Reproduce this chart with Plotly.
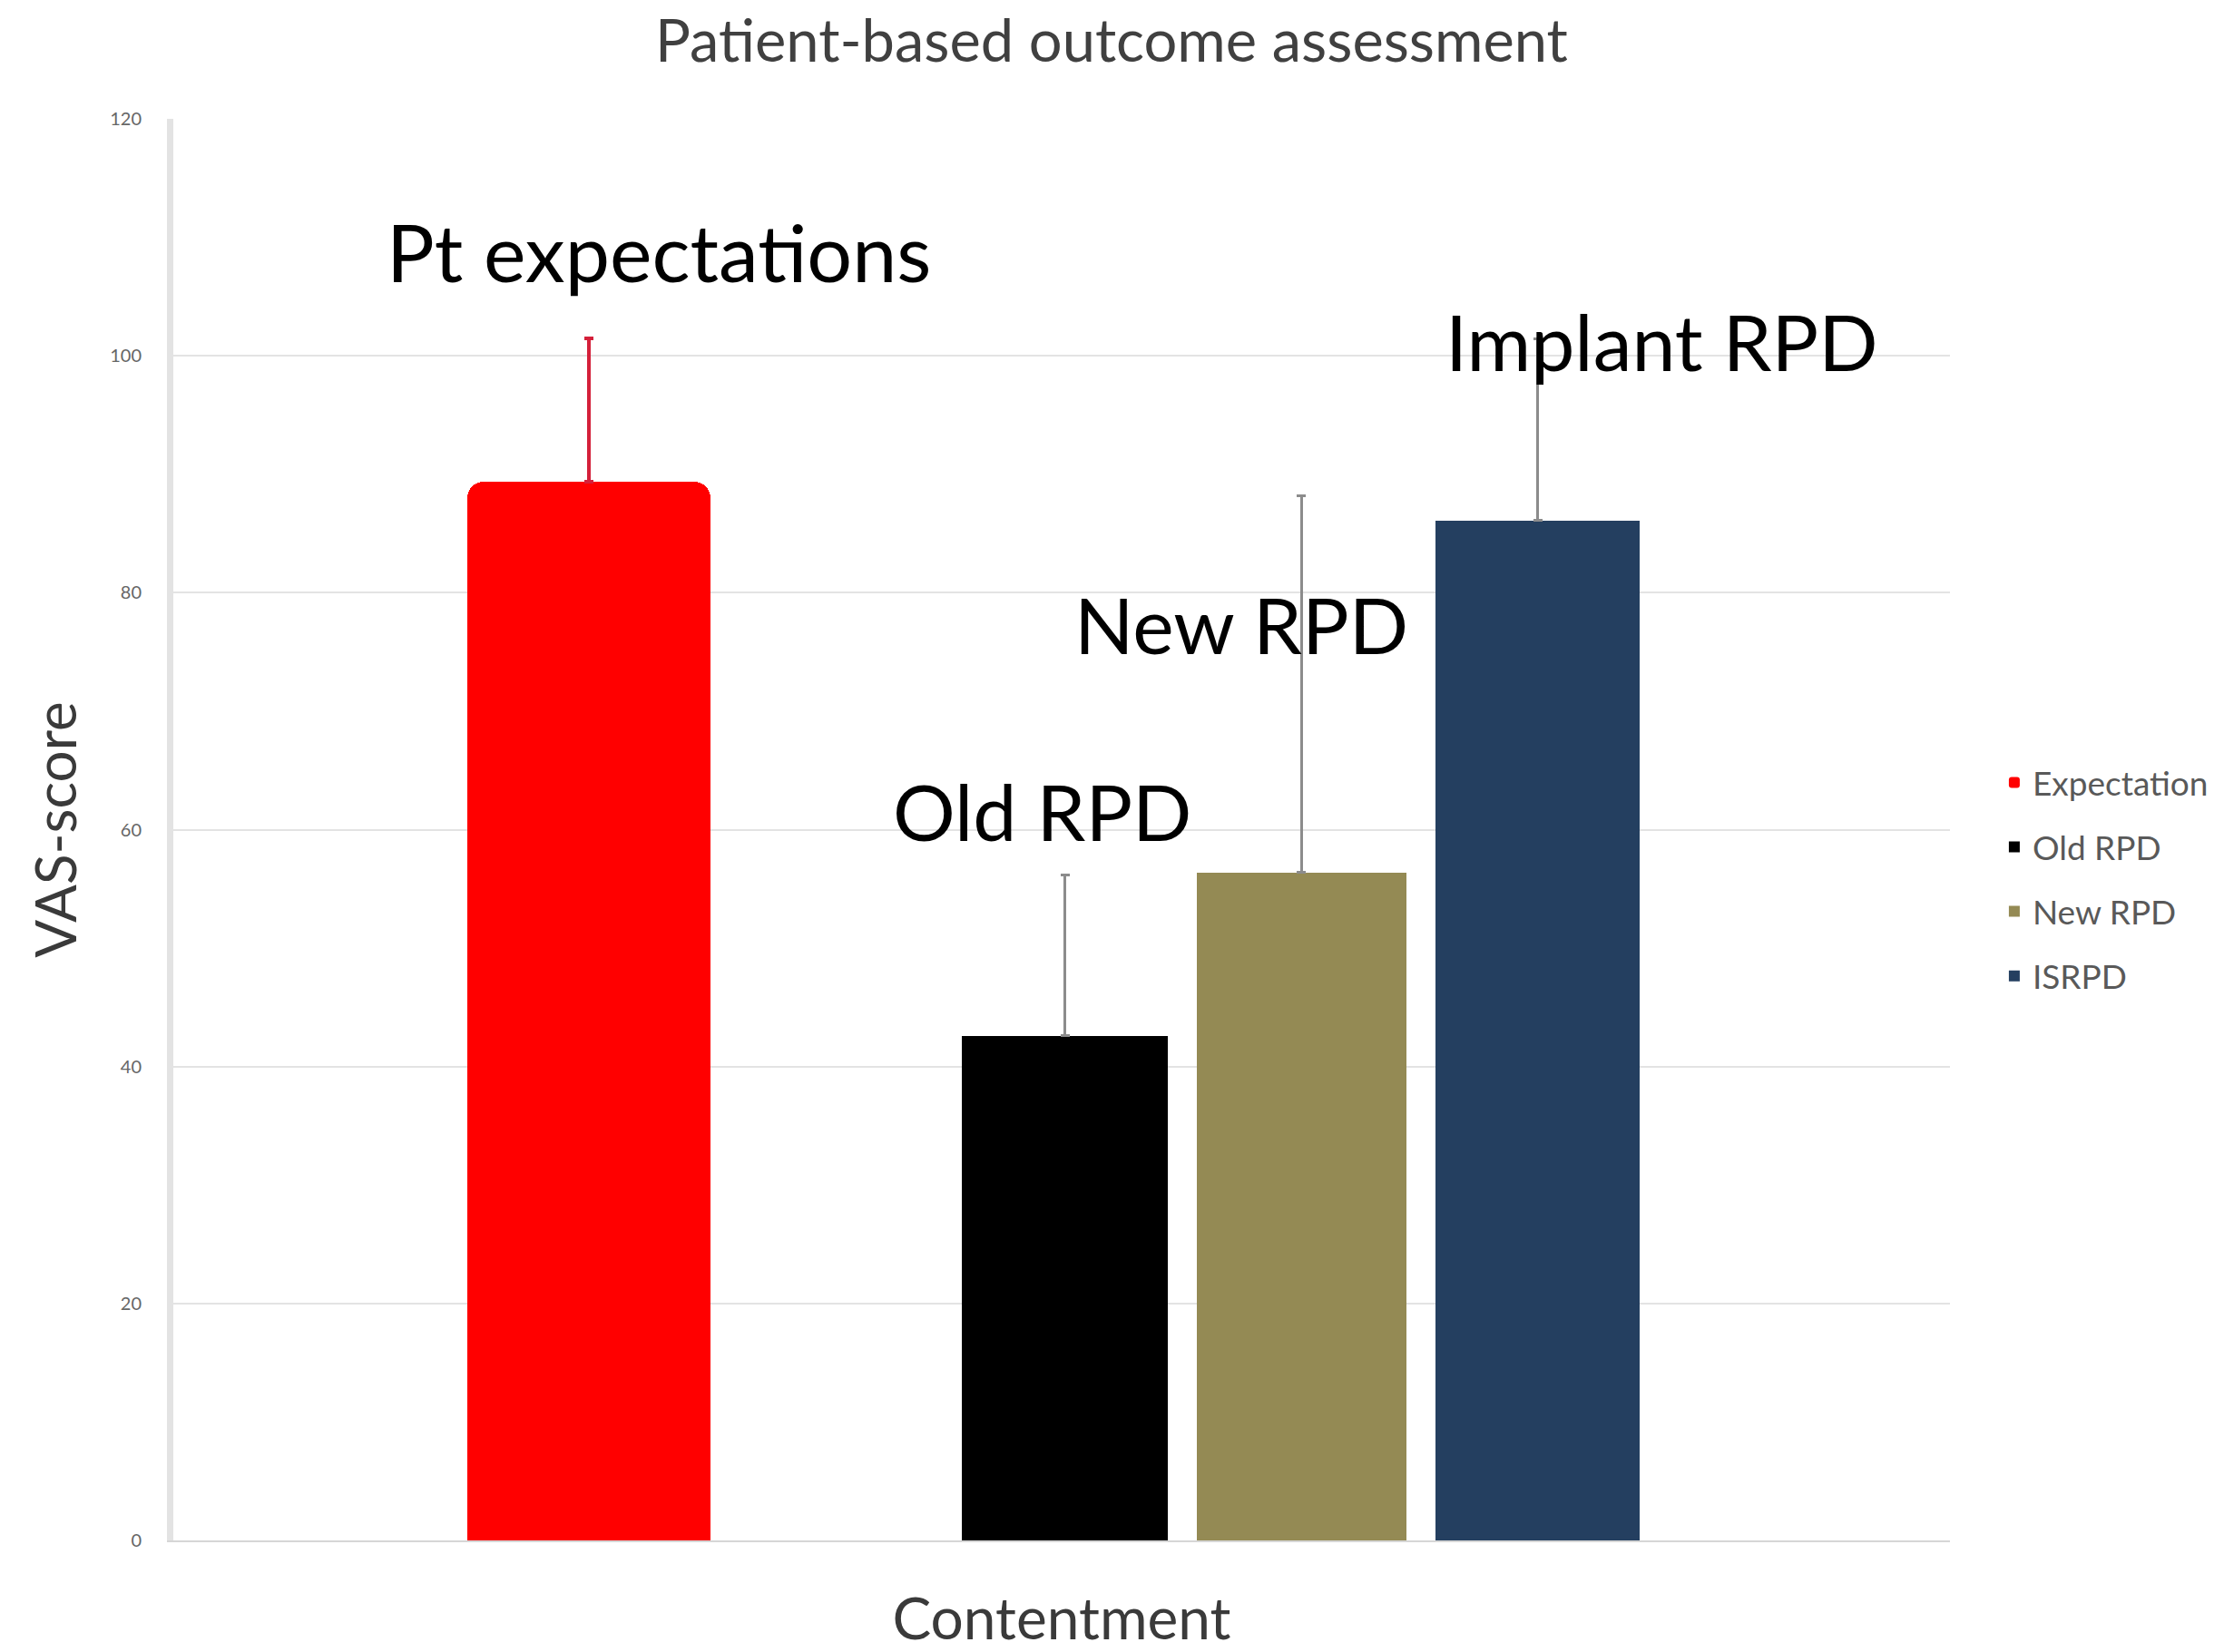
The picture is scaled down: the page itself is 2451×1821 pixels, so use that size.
import plotly.graph_objects as go

# Patient-based outcome assessment: VAS scores (mean + SD) for contentment
series = ["Expectation", "Old RPD", "New RPD", "ISRPD"]
means = [89.4, 42.6, 56.4, 86.1]
sds = [12.1, 13.6, 31.8, 15.3]
bar_labels = ["Pt expectations", "Old RPD", "New RPD", "Implant RPD"]
y_ticks = [0, 20, 40, 60, 80, 100, 120]

# styling / placement on a 0-100 horizontal scale
colors = ["#FF0000", "#000000", "#948A54", "#243F60"]
err_colors = ["#D4203A", "#8C8C8C", "#8C8C8C", "#8C8C8C"]
centers = [23.4, 50.2, 63.5, 76.8]
widths = [13.7, 11.6, 11.8, 11.5]
label_pos = [(27.3, 108.8), (48.9, 61.6), (60.1, 77.4), (83.8, 101.3)]

fig = go.Figure()
for i, name in enumerate(series):
    marker = dict(color=colors[i], line=dict(width=0))
    if i == 0:
        marker["cornerradius"] = 18
    fig.add_trace(go.Bar(
        x=[centers[i]], y=[means[i]], width=[widths[i]], name=name,
        legendgroup=name,
        marker=marker,
        error_y=dict(type="data", symmetric=False, array=[sds[i]], arrayminus=[0],
                     color=err_colors[i], thickness=3 if i else 4, width=5),
    ))

for i, (text, (lx, ly)) in enumerate(zip(bar_labels, label_pos)):
    fig.add_annotation(x=lx, y=ly, xref="x", yref="y", text=text, showarrow=False,
                       font=dict(family="Lato", size=88 if i == 0 else 86, color="#000000"),
                       xanchor="center", yanchor="middle")

fig.update_layout(
    width=2451, height=1821,
    margin=dict(l=191, r=297, t=131, b=121),
    paper_bgcolor="white", plot_bgcolor="white",
    title=dict(text="Patient-based outcome assessment", x=0.4998, y=0.975,
               xanchor="center", yanchor="middle",
               font=dict(family="Lato", size=65, color="#404040")),
    showlegend=True,
    legend=dict(x=1.026, y=0.465, xanchor="left", yanchor="middle",
                font=dict(family="Lato", size=37, color="#595959"),
                tracegroupgap=20, bgcolor="rgba(0,0,0,0)"),
    bargap=0,
)
fig.update_xaxes(range=[0, 100], showticklabels=False, showgrid=False, zeroline=False,
                 showline=True, linecolor="#d6d6d6", linewidth=2, fixedrange=True,
                 title=dict(text="Contentment", standoff=66,
                            font=dict(family="Lato", size=64, color="#3a3a3a")))
fig.update_yaxes(range=[0, 120], tickvals=y_ticks, showgrid=True, gridcolor="#e3e3e3",
                 gridwidth=2, zeroline=False, showline=True, linecolor="#e3e3e3",
                 linewidth=7, ticks="outside", ticklen=24, tickcolor="rgba(0,0,0,0)",
                 tickfont=dict(family="Lato", size=20, color="#666666"),
                 title=dict(text="VAS-score", standoff=19,
                            font=dict(family="Lato", size=62, color="#3a3a3a")))

fig.write_html("out.html")
